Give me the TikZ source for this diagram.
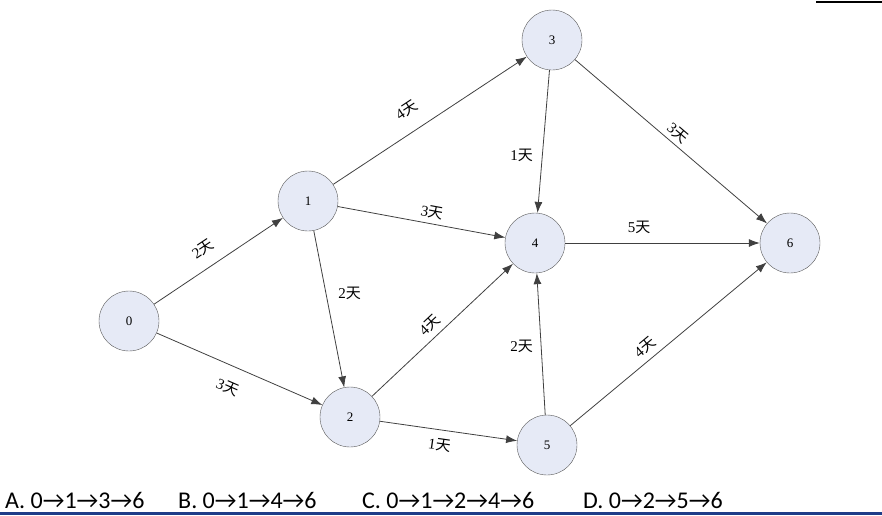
\documentclass[tikz,border=0pt]{standalone}
\usepackage{fontspec}
\setmainfont{Liberation Serif}
\newfontfamily\cjk{Noto Sans CJK SC}
\newfontfamily\opt{Carlito}
\usetikzlibrary{arrows.meta}
\definecolor{nodefill}{HTML}{E6EAF6}
\definecolor{rulebl}{HTML}{1F3C88}
\newcommand{\tian}[1]{#1{\cjk 天}}

\begin{document}
\begin{tikzpicture}[x=1pt,y=-1pt,>={Latex[length=11pt,width=8pt]},
  vtx/.style={circle,draw=black!65,fill=nodefill,minimum size=60pt,inner sep=0pt,font=\fontsize{13}{13}\selectfont},
  lbl/.style={font=\fontsize{15}{15}\selectfont,inner sep=0pt},
  conn/.style={->,draw=black!75,line width=0.8pt}]
\useasboundingbox (0,0) rectangle (882,515);
% vertices
\node[vtx] (v0) at (129,321) {0};
\node[vtx] (v1) at (308,201) {1};
\node[vtx] (v2) at (350,417) {2};
\node[vtx] (v3) at (552,40) {3};
\node[vtx] (v4) at (535,243) {4};
\node[vtx] (v5) at (547,445) {5};
\node[vtx] (v6) at (790,243) {6};
% activities
\draw[conn] (v0) -- node[lbl,pos=0.46,sloped,above=12pt]{\tian{2}} (v1);
\draw[conn] (v0) -- node[lbl,pos=0.48,sloped,below=15pt]{\tian{3}} (v2);
\draw[conn] (v1) -- node[lbl,pos=0.44,sloped,above=15pt]{\tian{4}} (v3);
\draw[conn] (v1) -- node[lbl,pos=0.55,sloped,above=5pt]{\tian{3}} (v4);
\draw[conn] (v1) -- node[lbl,pos=0.4,right=12pt]{\tian{2}} (v2);
\draw[conn] (v2) -- node[lbl,pos=0.47,sloped,above=6pt]{\tian{4}} (v4);
\draw[conn] (v2) -- node[lbl,pos=0.45,sloped,below=8pt]{\tian{1}} (v5);
\draw[conn] (v3) -- node[lbl,pos=0.6,left=9pt]{\tian{1}} (v4);
\draw[conn] (v3) -- node[lbl,pos=0.5,sloped,above=4pt]{\tian{3}} (v6);
\draw[conn] (v4) -- node[lbl,pos=0.38,above=9pt]{\tian{5}} (v6);
\draw[conn] (v5) -- node[lbl,pos=0.48,left=8pt]{\tian{2}} (v4);
\draw[conn] (v5) -- node[lbl,pos=0.42,sloped,above=6pt]{\tian{4}} (v6);
% choices
\begin{scope}[every node/.style={anchor=base west,inner sep=0pt,font=\opt\fontsize{24}{24}\selectfont}]
\node (ca) at (5,508) {A. 0→1→3→6};
\node (cb) at (178,508) {B. 0→1→4→6};
\node (cc) at (362,508) {C. 0→1→2→4→6};
\node (cd) at (583,508) {D. 0→2→5→6};
\end{scope}
\coordinate (bl) at (0,513.5);
\coordinate (br) at (882,513.5);
\coordinate (tl) at (816,2);
\coordinate (tr) at (882,2);
\draw[draw=rulebl,line width=3pt] (bl) -- (br);
\draw[draw=black,line width=2pt] (tl) -- (tr);
\end{tikzpicture}
\end{document}
